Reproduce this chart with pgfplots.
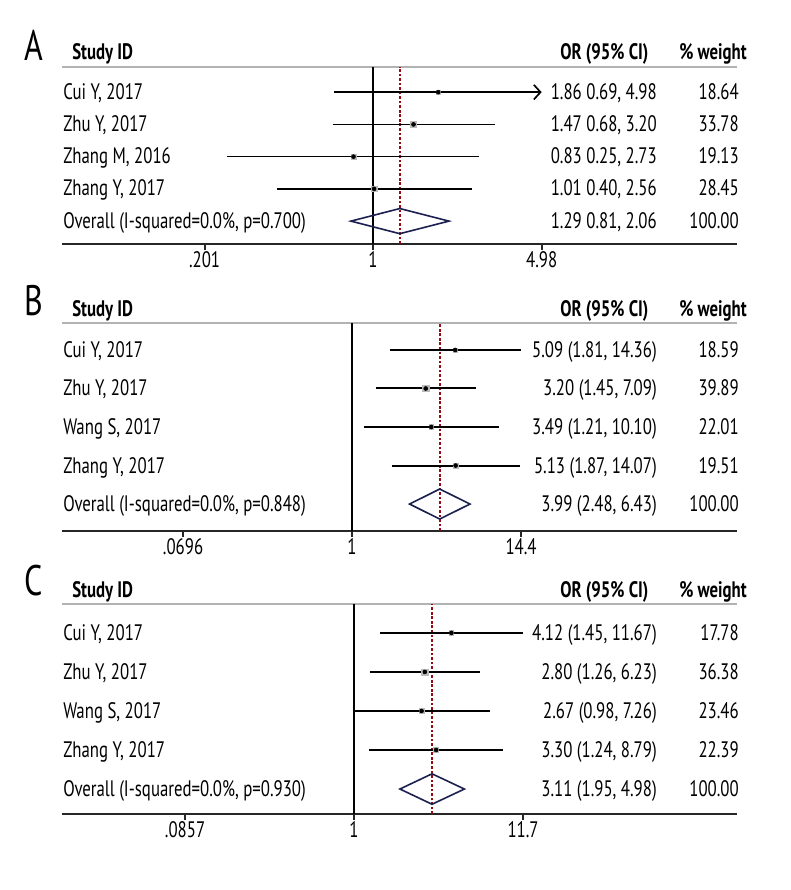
\documentclass[border=0pt]{standalone}
\usepackage{fontspec}
\setmainfont[FakeStretch=0.75]{PT Sans}
\usepackage{pgfplots}
\pgfplotsset{compat=1.18}
\usetikzlibrary{arrows.meta}
\definecolor{navy}{RGB}{28,32,80}
\definecolor{dred}{RGB}{150,10,20}
\newcommand\rowfont{\fontsize{16.8pt}{20pt}\selectfont}
\newcommand\letterfont{\fontsize{32pt}{36pt}\selectfont}
\pgfplotsset{
  fpbox/.style={only marks, mark=square*, mark options={fill=gray!55, draw=gray!55}},
  fpdot/.style={only marks, mark=*, mark size=1.5pt, black},
}
\tikzset{
  fpci/.style={black, line width=1.3pt},
  fpdia/.style={navy, line width=1.2pt, line join=miter, line cap=round},
  fpref/.style={black, line width=1pt},
  fpest/.style={dred, line width=1.2pt, dash pattern=on 2pt off 1.4pt},
  fphdr/.style={gray!60, line width=0.9pt},
}
\begin{document}
\begin{tikzpicture}
\path[use as bounding box] (0,0) rectangle (592.5pt,-667.5pt);

% ---------------- Panel A ----------------
\begin{axis}[xmode=log, scale only axis, width=506.25pt, height=132.75pt,
  at={(46.5pt,-183pt)}, anchor=south west,
  axis x line*=bottom, axis y line=none,
  x axis line style={line width=1.6pt, black!85},
  xtick style={line width=1.6pt, black!85},
  major tick length=4.5pt, tick align=outside, ytick=\empty,
  xticklabel style={font=\rowfont, anchor=base, yshift=-13pt},
  clip=false,
  xmin=0.0517, xmax=32.0, ymin=0.29, ymax=5.78,
  xtick={0.201,1,4.98}, xticklabels={.201,1,4.98}]
\draw[fphdr] (rel axis cs:0,1) -- (rel axis cs:1,1);
\addplot[fpref] coordinates {(1,0.29) (1,5.78)};
\addplot[fpest] coordinates {(1.29,0.29) (1.29,5.78)};
\addplot[fpci, line width=1.25pt, -{Straight Barb[length=5pt,width=11pt]}] coordinates {(0.69,5) (4.98,5)};
\addplot[fpci, line width=1.25pt] coordinates {(0.68,4) (3.20,4)};
\addplot[fpci, line width=1.25pt] coordinates {(0.25,3) (2.73,3)};
\addplot[fpci, line width=1.25pt] coordinates {(0.40,2) (2.56,2)};
\addplot[fpbox, mark size=1.6pt] coordinates {(1.86,5)};
\addplot[fpbox, mark size=2.2pt] coordinates {(1.47,4)};
\addplot[fpbox, mark size=1.7pt] coordinates {(0.83,3)};
\addplot[fpbox, mark size=2.0pt] coordinates {(1.01,2)};
\addplot[fpdot] coordinates {(1.86,5) (1.47,4) (0.83,3) (1.01,2)};
\addplot[fpdia] coordinates {(0.81,1) (1.29,1.39) (2.06,1) (1.29,0.61) (0.81,1) (1.29,1.39)};
\end{axis}

% ---------------- Panel B ----------------
\begin{axis}[xmode=log, scale only axis, width=506.25pt, height=156pt,
  at={(46.5pt,-398.25pt)}, anchor=south west,
  axis x line*=bottom, axis y line=none,
  x axis line style={line width=1.6pt, black!85},
  xtick style={line width=1.6pt, black!85},
  major tick length=4.5pt, tick align=outside, ytick=\empty,
  xticklabel style={font=\rowfont, anchor=base, yshift=-13pt},
  clip=false,
  xmin=0.01031, xmax=434, ymin=0.30, ymax=5.70,
  xtick={0.0696,1,14.4}, xticklabels={.0696,1,14.4}]
\draw[fphdr] (rel axis cs:0,1) -- (rel axis cs:1,1);
\addplot[fpref] coordinates {(1,0.30) (1,5.70)};
\addplot[fpest] coordinates {(3.99,0.30) (3.99,5.70)};
\addplot[fpci, line width=1.5pt] coordinates {(1.81,5) (14.36,5)};
\addplot[fpci, line width=1.5pt] coordinates {(1.45,4) (7.09,4)};
\addplot[fpci, line width=1.5pt] coordinates {(1.21,3) (10.10,3)};
\addplot[fpci, line width=1.5pt] coordinates {(1.87,2) (14.07,2)};
\addplot[fpbox, mark size=1.6pt] coordinates {(5.09,5)};
\addplot[fpbox, mark size=2.4pt] coordinates {(3.20,4)};
\addplot[fpbox, mark size=1.8pt] coordinates {(3.49,3)};
\addplot[fpbox, mark size=1.7pt] coordinates {(5.13,2)};
\addplot[fpdot] coordinates {(5.09,5) (3.20,4) (3.49,3) (5.13,2)};
\addplot[fpdia] coordinates {(2.48,1) (3.99,1.39) (6.43,1) (3.99,0.61) (2.48,1) (3.99,1.39)};
\end{axis}

% ---------------- Panel C ----------------
\begin{axis}[xmode=log, scale only axis, width=506.25pt, height=157.5pt,
  at={(46.5pt,-610.5pt)}, anchor=south west,
  axis x line*=bottom, axis y line=none,
  x axis line style={line width=1.6pt, black!85},
  xtick style={line width=1.6pt, black!85},
  major tick length=4.5pt, tick align=outside, ytick=\empty,
  xticklabel style={font=\rowfont, anchor=base, yshift=-13pt},
  clip=false,
  xmin=0.01430, xmax=262.6, ymin=0.36, ymax=5.74,
  xtick={0.0857,1,11.7}, xticklabels={.0857,1,11.7}]
\draw[fphdr] (rel axis cs:0,1) -- (rel axis cs:1,1);
\addplot[fpref] coordinates {(1,0.36) (1,5.74)};
\addplot[fpest] coordinates {(3.11,0.36) (3.11,5.74)};
\addplot[fpci, line width=1.5pt] coordinates {(1.45,5) (11.67,5)};
\addplot[fpci, line width=1.5pt] coordinates {(1.26,4) (6.23,4)};
\addplot[fpci, line width=1.5pt] coordinates {(0.98,3) (7.26,3)};
\addplot[fpci, line width=1.5pt] coordinates {(1.24,2) (8.79,2)};
\addplot[fpbox, mark size=1.6pt] coordinates {(4.12,5)};
\addplot[fpbox, mark size=2.3pt] coordinates {(2.80,4)};
\addplot[fpbox, mark size=1.9pt] coordinates {(2.67,3)};
\addplot[fpbox, mark size=1.8pt] coordinates {(3.30,2)};
\addplot[fpdot] coordinates {(4.12,5) (2.80,4) (2.67,3) (3.30,2)};
\addplot[fpdia] coordinates {(1.95,1) (3.11,1.39) (4.98,1) (3.11,0.61) (1.95,1) (3.11,1.39)};
\end{axis}

% ---------------- Text ----------------
\begin{scope}[x=0.75pt, y=-0.75pt, every node/.style={inner sep=0pt}]
\node[anchor=base west, font=\letterfont] at (24,60) {A};
\node[anchor=base west, font=\letterfont] at (24,315) {B};
\node[anchor=base west, font=\letterfont] at (24,595) {C};
\foreach \yb in {59,316,597}{
  \node[anchor=base west, font=\rowfont\bfseries] at (72,\yb) {Study ID};
  \node[anchor=base west, font=\rowfont\bfseries] at (560,\yb) {OR (95\% CI)};
  \node[anchor=base west, font=\rowfont\bfseries] at (679,\yb) {\% weight};
}
\foreach \yb/\name/\orv/\w in {99/{Cui Y, 2017}/{1.86 0.69, 4.98}/18.64,
    131/{Zhu Y, 2017}/{1.47 0.68, 3.20}/33.78,
    163/{Zhang M, 2016}/{0.83 0.25, 2.73}/19.13,
    195/{Zhang Y, 2017}/{1.01 0.40, 2.56}/28.45,
    228/{Overall (I-squared=0.0\%, p=0.700)}/{1.29 0.81, 2.06}/100.00}{
  \node[anchor=base west, font=\rowfont] at (63,\yb) {\name};
  \node[anchor=base east, font=\rowfont] at (657,\yb) {\orv};
  \node[anchor=base east, font=\rowfont] at (739,\yb) {\w};
}
\foreach \yb/\name/\orv/\w in {357/{Cui Y, 2017}/{5.09 (1.81, 14.36)}/18.59,
    395/{Zhu Y, 2017}/{3.20 (1.45, 7.09)}/39.89,
    434/{Wang S, 2017}/{3.49 (1.21, 10.10)}/22.01,
    473/{Zhang Y, 2017}/{5.13 (1.87, 14.07)}/19.51,
    511/{Overall (I-squared=0.0\%, p=0.848)}/{3.99 (2.48, 6.43)}/100.00}{
  \node[anchor=base west, font=\rowfont] at (63,\yb) {\name};
  \node[anchor=base east, font=\rowfont] at (657,\yb) {\orv};
  \node[anchor=base east, font=\rowfont] at (739,\yb) {\w};
}
\foreach \yb/\name/\orv/\w in {640/{Cui Y, 2017}/{4.12 (1.45, 11.67)}/17.78,
    679/{Zhu Y, 2017}/{2.80 (1.26, 6.23)}/36.38,
    718/{Wang S, 2017}/{2.67 (0.98, 7.26)}/23.46,
    757/{Zhang Y, 2017}/{3.30 (1.24, 8.79)}/22.39,
    796/{Overall (I-squared=0.0\%, p=0.930)}/{3.11 (1.95, 4.98)}/100.00}{
  \node[anchor=base west, font=\rowfont] at (63,\yb) {\name};
  \node[anchor=base east, font=\rowfont] at (657,\yb) {\orv};
  \node[anchor=base east, font=\rowfont] at (739,\yb) {\w};
}
\end{scope}
\end{tikzpicture}
\end{document}
